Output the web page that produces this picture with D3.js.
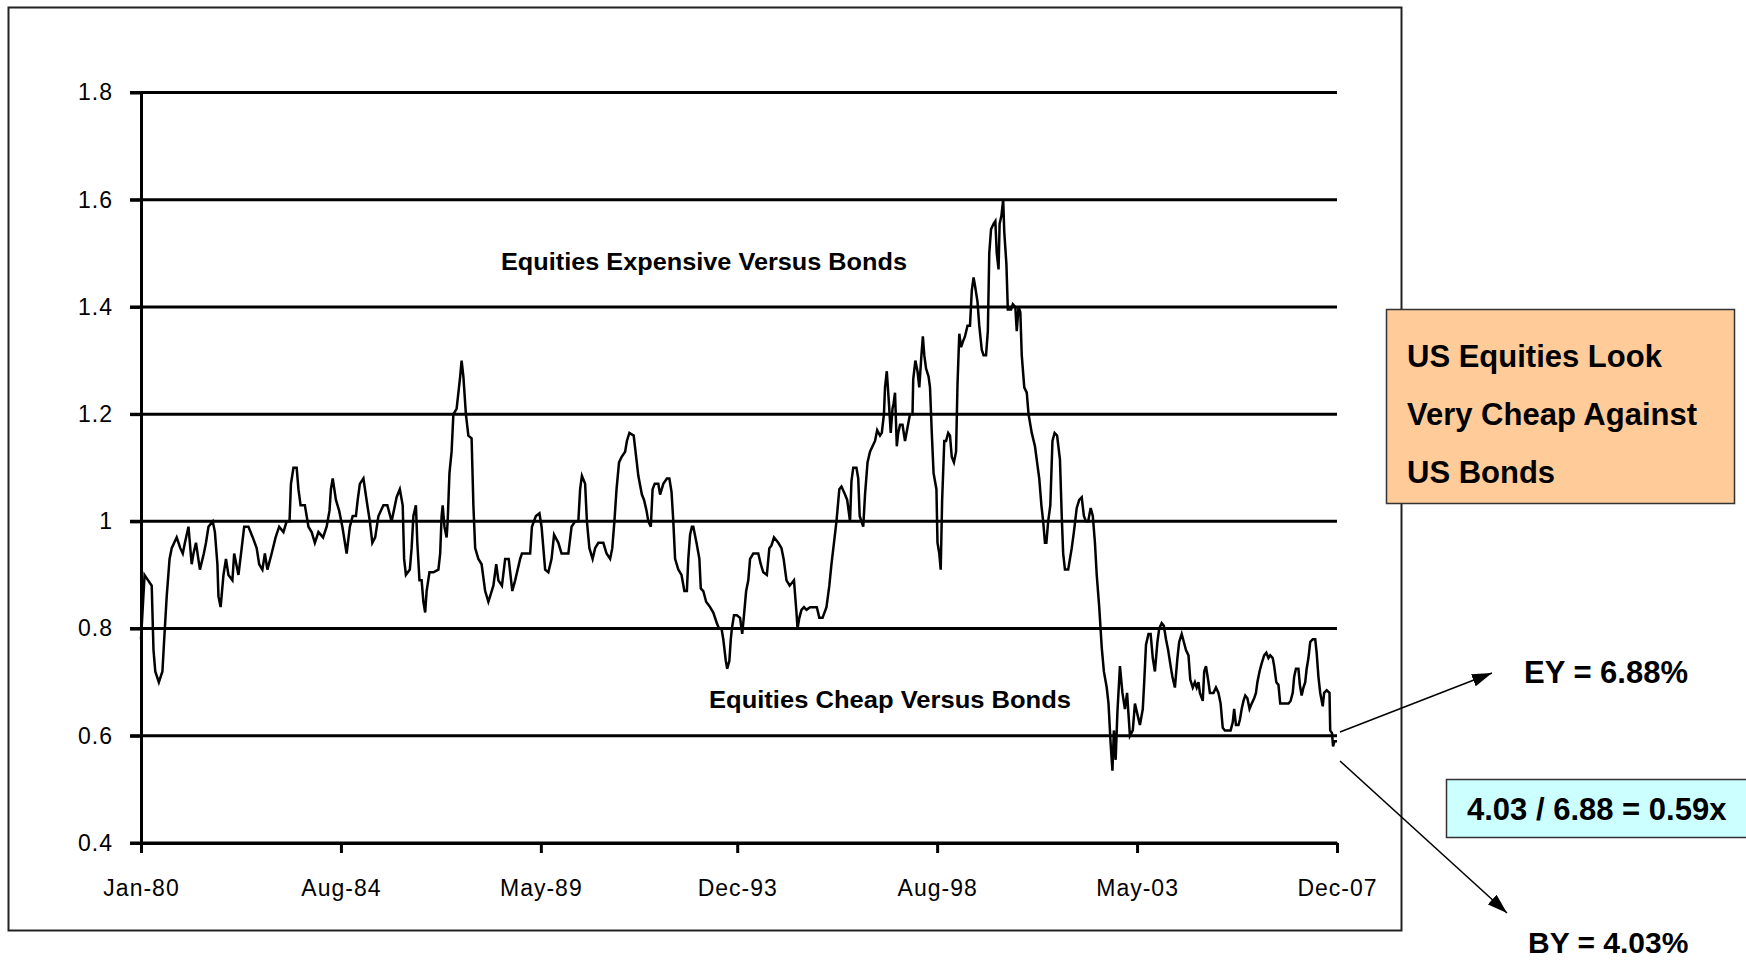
<!DOCTYPE html>
<html>
<head>
<meta charset="utf-8">
<script src="https://cdn.jsdelivr.net/npm/d3@7"></script>
<style>
  body { margin: 0; background: #fff; }
  svg { display: block; }
  text { font-family: "Liberation Sans", Arial, sans-serif; fill: #000; }
</style>
</head>
<body>
<svg width="1746" height="961"></svg>
<script>
// y axis ticks and x axis labels (month offsets from Jan-80)
const yTicks = [0.4, 0.6, 0.8, 1, 1.2, 1.4, 1.6, 1.8];
const xTickMonths = [0, 56, 112, 167, 223, 279, 335];
const xTickLabels = ['Jan-80', 'Aug-84', 'May-89', 'Dec-93', 'Aug-98', 'May-03', 'Dec-07'];

// bond yield / earnings yield ratio, [month offset from Jan-80, ratio]
const ratioSeries = [
  [0,0.78],[1,0.90],[2,0.89],[3,0.88],[3.5,0.76],[4,0.72],[5,0.70],[6,0.72],[6.5,0.78],[7.2,0.86],
  [8,0.93],[8.6,0.95],[9.3,0.96],[10,0.97],[11,0.95],[11.7,0.94],[12.3,0.96],[13.3,0.99],[14.2,0.92],[14.7,0.94],
  [15.4,0.96],[16.5,0.91],[17.6,0.94],[18.2,0.96],[18.9,0.99],[20.1,1.0],[20.7,0.98],[21.4,0.92],[21.7,0.86],[22.3,0.84],
  [23.1,0.90],[23.8,0.93],[24.5,0.90],[25.6,0.89],[26.1,0.94],[27.3,0.90],[28.2,0.95],[28.9,0.99],[30.1,0.99],[31.3,0.97],
  [32.4,0.95],[33.1,0.92],[34,0.91],[34.7,0.94],[35.4,0.91],[36.6,0.94],[37.7,0.97],[38.7,0.99],[39.9,0.98],[40.8,1.0],
  [41.6,1.0],[42,1.07],[42.7,1.10],[43.6,1.10],[44.1,1.06],[44.7,1.03],[45.9,1.03],[46.9,0.99],[47.8,0.98],[48.7,0.96],
  [49.7,0.98],[51,0.97],[52,0.99],[52.8,1.02],[53.2,1.06],[53.7,1.08],[54.6,1.04],[55.5,1.02],[56.4,0.99],[57.6,0.94],
  [58.5,0.99],[59.3,1.01],[60.2,1.01],[60.7,1.04],[61.3,1.07],[62.3,1.08],[63.4,1.03],[64.1,1.0],[64.8,0.96],[65.6,0.97],
  [66.5,1.01],[67.9,1.03],[69,1.03],[70.2,1.0],[71.6,1.045],[72.5,1.06],[73.3,1.03],[73.7,0.93],[74.2,0.90],[75.3,0.91],
  [75.8,0.95],[76.3,1.01],[77,1.03],[77.4,0.96],[78,0.89],[78.6,0.89],[79.1,0.85],[79.6,0.83],[80,0.87],[80.8,0.905],
  [81.9,0.905],[83.3,0.91],[83.8,0.94],[84.2,1.01],[84.5,1.03],[85,0.99],[85.6,0.97],[85.9,1.0],[86.4,1.09],[87,1.13],
  [87.5,1.20],[88.4,1.21],[89.4,1.27],[89.8,1.30],[90.3,1.27],[91,1.20],[91.7,1.16],[92.6,1.155],[93.1,1.03],[93.6,0.95],
  [94.5,0.93],[95.4,0.92],[96.4,0.87],[97.3,0.85],[98.7,0.88],[99.5,0.92],[100.1,0.89],[101.1,0.88],[102,0.93],[103,0.93],
  [104,0.87],[104.8,0.89],[106.2,0.93],[106.7,0.94],[109,0.94],[109.5,0.99],[110.6,1.01],[111.6,1.015],[112.2,0.99],[112.7,0.95],
  [113.2,0.91],[114.1,0.905],[115,0.93],[115.7,0.975],[116.9,0.96],[117.8,0.94],[118.8,0.94],[119.7,0.94],[120.6,0.99],[121.6,1.0],
  [122.5,1.0],[123,1.06],[123.5,1.085],[124.4,1.07],[124.9,1.0],[125.6,0.95],[126.5,0.93],[127.2,0.95],[128.1,0.96],[129.5,0.96],
  [130.4,0.94],[131.4,0.93],[132,0.95],[132.6,1.0],[133.2,1.06],[133.9,1.11],[134.6,1.12],[135.6,1.13],[136.1,1.15],[136.8,1.165],
  [138,1.16],[138.7,1.12],[139.3,1.085],[140.3,1.05],[140.9,1.04],[141.6,1.02],[142.1,1.0],[142.8,0.99],[143.3,1.06],[143.9,1.07],
  [144.9,1.07],[145.4,1.05],[146.3,1.07],[147.3,1.08],[148,1.08],[148.6,1.055],[149.1,1.0],[149.6,0.93],[150.5,0.91],[151.4,0.90],
  [152.2,0.87],[152.9,0.87],[153.3,0.93],[153.8,0.975],[154.3,0.99],[154.7,0.99],[155.6,0.96],[156.4,0.93],[156.8,0.875],[157.5,0.87],
  [158.3,0.85],[159.4,0.84],[160.3,0.83],[161.3,0.81],[161.9,0.80],[162.6,0.80],[163.1,0.78],[163.8,0.74],[164.2,0.725],[164.8,0.74],
  [165.2,0.78],[165.5,0.80],[166.1,0.825],[166.9,0.825],[167.8,0.82],[168.4,0.79],[168.9,0.825],[169.5,0.87],[170.1,0.89],[170.6,0.93],
  [171.5,0.94],[172.3,0.94],[172.9,0.94],[173.6,0.92],[174.3,0.905],[175.3,0.90],[176,0.95],[176.6,0.955],[177.3,0.97],[178.5,0.96],
  [179.4,0.95],[180,0.93],[180.8,0.89],[181.7,0.88],[182.9,0.89],[183.6,0.83],[183.9,0.80],[184.4,0.82],[185,0.835],[185.7,0.84],
  [186.4,0.835],[187.4,0.84],[188.3,0.84],[189.3,0.84],[190,0.82],[190.9,0.82],[192,0.84],[192.8,0.88],[193.4,0.92],[194.1,0.96],
  [194.8,1.0],[195.6,1.06],[196.2,1.065],[197.2,1.05],[197.8,1.04],[198.6,1.0],[199,1.075],[199.5,1.10],[200.4,1.10],[200.9,1.08],
  [201.3,1.01],[201.8,1.0],[202.3,0.99],[202.8,1.05],[203.5,1.11],[204.2,1.13],[204.9,1.14],[205.6,1.15],[206.2,1.17],[207,1.16],
  [207.5,1.165],[208.1,1.2],[208.4,1.25],[208.9,1.28],[209.5,1.22],[210,1.165],[210.5,1.21],[210.8,1.22],[211.2,1.24],[211.7,1.14],
  [212.1,1.165],[212.6,1.18],[213.3,1.18],[214,1.15],[214.7,1.175],[215.4,1.20],[216.1,1.20],[216.3,1.265],[216.9,1.30],[217.5,1.28],
  [218,1.25],[218.6,1.31],[219,1.345],[219.4,1.31],[219.9,1.285],[220.6,1.27],[221,1.25],[221.5,1.165],[222,1.09],[222.8,1.06],
  [223.1,0.96],[223.6,0.94],[224,0.91],[224.4,1.04],[225,1.15],[225.5,1.15],[226.1,1.165],[226.6,1.16],[227.1,1.12],[227.7,1.11],
  [228.3,1.13],[228.7,1.255],[229.2,1.35],[229.7,1.325],[230.2,1.335],[230.8,1.345],[231.5,1.365],[232.2,1.365],[232.7,1.43],[233.2,1.455],
  [233.6,1.44],[234.3,1.41],[234.8,1.365],[235.5,1.32],[236,1.31],[236.7,1.31],[237.2,1.355],[237.6,1.50],[238.1,1.545],[238.8,1.555],
  [239.3,1.56],[239.7,1.50],[240.2,1.47],[240.5,1.555],[241,1.57],[241.5,1.60],[241.8,1.54],[242.4,1.48],[242.8,1.395],[243.7,1.395],
  [244.2,1.405],[244.9,1.40],[245.3,1.355],[245.8,1.40],[246.3,1.39],[246.7,1.31],[247.4,1.25],[248.1,1.24],[248.6,1.20],[249.5,1.165],
  [250.4,1.14],[251.1,1.105],[251.6,1.08],[252.2,1.03],[252.7,1.0],[253.2,0.96],[253.6,0.96],[254.1,1.0],[254.7,1.03],[255.3,1.15],
  [255.9,1.165],[256.6,1.16],[257.4,1.115],[257.9,1.01],[258.3,0.94],[258.8,0.91],[259.7,0.91],[260.7,0.95],[261.3,0.98],[262.1,1.025],
  [262.8,1.04],[263.5,1.045],[264.1,1.01],[264.7,1.0],[265.3,1.0],[266,1.025],[266.6,1.01],[267.2,0.96],[267.7,0.90],[268.4,0.84],
  [269.1,0.765],[269.7,0.72],[270.5,0.69],[271,0.66],[271.6,0.585],[272.1,0.535],[272.5,0.61],[273,0.555],[273.5,0.645],[274.2,0.73],
  [274.9,0.68],[275.6,0.65],[276.2,0.68],[277,0.60],[277.8,0.61],[278.4,0.66],[279.1,0.64],[279.8,0.62],[280.6,0.65],[281,0.70],
  [281.5,0.77],[282.2,0.79],[282.8,0.79],[283.4,0.745],[284,0.72],[284.7,0.775],[285.2,0.80],[285.9,0.81],[286.5,0.805],[287.1,0.78],
  [287.7,0.76],[288.4,0.73],[288.9,0.71],[289.6,0.69],[290.3,0.745],[290.8,0.775],[291.5,0.79],[292.1,0.775],[292.7,0.76],[293.4,0.75],
  [293.9,0.705],[294.6,0.69],[295.2,0.70],[295.7,0.69],[296.2,0.70],[296.6,0.68],[297.4,0.665],[297.8,0.72],[298.3,0.73],[299,0.70],
  [299.4,0.68],[300.4,0.68],[301.1,0.69],[301.8,0.68],[302.4,0.66],[303,0.615],[303.6,0.61],[304.6,0.61],[305.2,0.61],[305.8,0.625],
  [306.2,0.65],[306.7,0.62],[307.4,0.62],[307.8,0.63],[308.3,0.65],[308.8,0.665],[309.3,0.675],[309.9,0.67],[310.5,0.65],[311.1,0.66],
  [311.8,0.67],[312.3,0.68],[312.7,0.70],[313.3,0.72],[313.9,0.735],[314.6,0.75],[315.2,0.755],[315.8,0.745],[316.3,0.75],[317,0.745],
  [317.4,0.73],[318,0.70],[318.6,0.695],[319.1,0.66],[320.4,0.66],[321.4,0.66],[322,0.665],[322.6,0.68],[323,0.71],[323.5,0.725],
  [324.2,0.725],[324.6,0.695],[325.1,0.675],[325.6,0.69],[326.1,0.70],[326.5,0.725],[327,0.745],[327.5,0.775],[328.2,0.78],[328.9,0.78],
  [329.3,0.755],[329.8,0.71],[330.3,0.68],[331,0.655],[331.4,0.68],[332.1,0.685],[332.9,0.68],[333.1,0.61],[333.6,0.605],[333.9,0.58],
  [334.3,0.59],[335,0.59]
];

// in-chart zone labels: [text, month, ratio, width] (centre of the text)
const zoneLabels = [
  ['Equities Expensive Versus Bonds', 157.7, 1.484, 406],
  ['Equities Cheap Versus Bonds', 209.8, 0.668, 362]
];
const callout = ['US Equities Look', 'Very Cheap Against', 'US Bonds'];
const eyText = 'EY = 6.88%';
const byText = 'BY = 4.03%';
const ratioText = '4.03 / 6.88 = 0.59x';

const svg = d3.select('svg');

const x = d3.scaleLinear().domain([0, 335]).range([141, 1337]);
const y = d3.scaleLinear().domain([0.4, 1.8]).range([843, 92.5]);

// outer frame of the chart
svg.append('rect')
   .attr('x', 8.5).attr('y', 7.5)
   .attr('width', 1393).attr('height', 923)
   .attr('fill', 'none').attr('stroke', '#222').attr('stroke-width', 2);

// horizontal gridlines (the 0.4 one doubles as the x axis)
svg.append('g')
   .selectAll('line')
   .data(yTicks)
   .join('line')
   .attr('x1', 130).attr('x2', x.range()[1])
   .attr('y1', d => y(d)).attr('y2', d => y(d))
   .attr('stroke', '#000').attr('stroke-width', 3);

const y_ax = d3.axisLeft(y)
               .tickValues(yTicks)
               .tickFormat(d3.format(''))
               .tickSizeInner(11)
               .tickSizeOuter(0)
               .tickPadding(17);
const h_y_ax = svg.append('g').attr('transform', `translate(${x.range()[0]},0)`).call(y_ax);
h_y_ax.select('.domain').attr('stroke', '#000').attr('stroke-width', 3);
h_y_ax.selectAll('.tick line').attr('stroke', '#000').attr('stroke-width', 3);
h_y_ax.selectAll('.tick text')
      .style('font-size', '23px')
      .style('letter-spacing', '1px');

const x_ax = d3.axisBottom(x)
               .tickValues(xTickMonths)
               .tickFormat((d, i) => xTickLabels[i])
               .tickSizeInner(10)
               .tickSizeOuter(0)
               .tickPadding(27);
const h_x_ax = svg.append('g').attr('transform', `translate(0,${y(0.4)})`).call(x_ax);
h_x_ax.select('.domain').attr('stroke', '#000').attr('stroke-width', 3);
h_x_ax.selectAll('.tick line').attr('stroke', '#000').attr('stroke-width', 3);
h_x_ax.selectAll('.tick text')
      .style('font-size', '23px')
      .style('letter-spacing', '1px');

// ratio line
const line = d3.line()
               .x(d => x(d[0]))
               .y(d => y(d[1]));
svg.append('path')
   .datum(ratioSeries)
   .attr('d', line)
   .attr('fill', 'none')
   .attr('stroke', '#000')
   .attr('stroke-width', 2.5)
   .attr('stroke-linejoin', 'miter');

// zone labels
svg.append('g')
   .selectAll('text')
   .data(zoneLabels)
   .join('text')
   .attr('x', d => x(d[1]) - d[3] / 2)
   .attr('y', d => y(d[2]))
   .attr('dy', '0.36em')
   .attr('textLength', d => d[3])
   .attr('lengthAdjust', 'spacingAndGlyphs')
   .style('font-size', '23px')
   .style('font-weight', 'bold')
   .text(d => d[0]);

// callout box
svg.append('rect')
   .attr('x', 1386.5).attr('y', 309.5)
   .attr('width', 348).attr('height', 194)
   .attr('fill', '#FFCC99').attr('stroke', '#333').attr('stroke-width', 1.5);
svg.append('g')
   .selectAll('text')
   .data(callout)
   .join('text')
   .attr('x', 1407)
   .attr('y', (d, i) => 367 + i * 58)
   .style('font-size', '31px')
   .style('font-weight', 'bold')
   .text(d => d);

// ratio box
svg.append('rect')
   .attr('x', 1446.5).attr('y', 779.5)
   .attr('width', 320).attr('height', 58)
   .attr('fill', '#CCFFFF').attr('stroke', '#333').attr('stroke-width', 1.5);
svg.append('text')
   .attr('x', 1467).attr('y', 820)
   .style('font-size', '31px').style('font-weight', 'bold')
   .text(ratioText);

svg.append('text')
   .attr('x', 1524).attr('y', 683)
   .style('font-size', '31px').style('font-weight', 'bold')
   .text(eyText);
svg.append('text')
   .attr('x', 1528).attr('y', 953)
   .style('font-size', '30px').style('font-weight', 'bold')
   .text(byText);

// arrows pointing from the last reading to the yield labels
svg.append('defs').append('marker')
   .attr('id', 'head')
   .attr('viewBox', '0 0 20 13')
   .attr('refX', 20).attr('refY', 6.5)
   .attr('markerWidth', 20).attr('markerHeight', 13)
   .attr('markerUnits', 'userSpaceOnUse')
   .attr('orient', 'auto')
   .append('path')
   .attr('d', 'M0,0L20,6.5L0,13Z')
   .attr('fill', '#000');

const arrows = [
  [[1340, 732], [1492, 673]],
  [[1340, 761], [1507, 913]]
];
svg.append('g')
   .selectAll('line')
   .data(arrows)
   .join('line')
   .attr('x1', d => d[0][0]).attr('y1', d => d[0][1])
   .attr('x2', d => d[1][0]).attr('y2', d => d[1][1])
   .attr('stroke', '#000').attr('stroke-width', 1.5)
   .attr('marker-end', 'url(#head)');
</script>
</body>
</html>
